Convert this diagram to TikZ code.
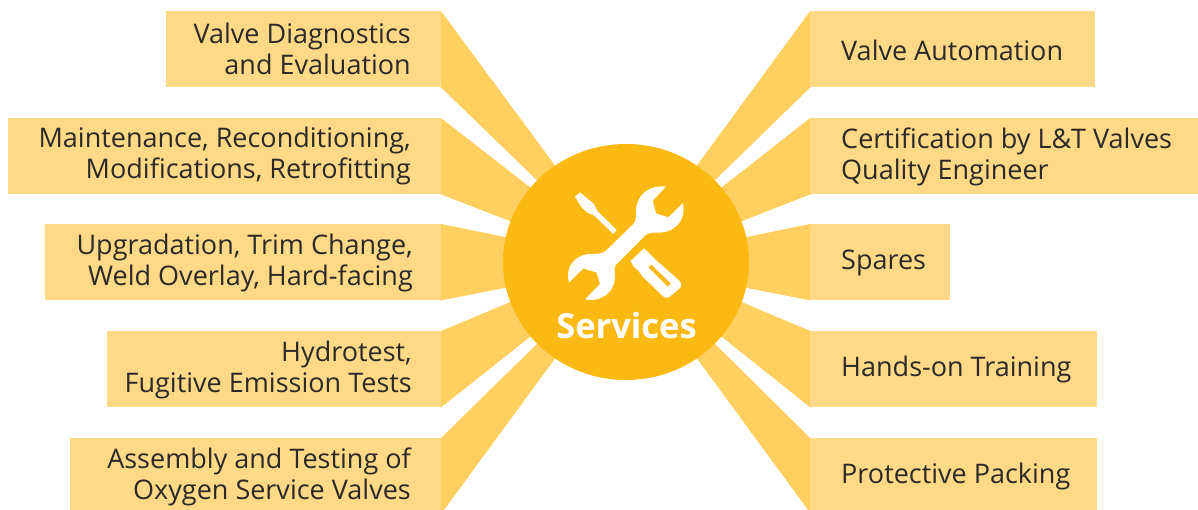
\documentclass[tikz,border=0pt]{standalone}
\usepackage{fontspec}
\setmainfont{Open Sans}
\usetikzlibrary{calc,backgrounds}
\definecolor{boxc}{HTML}{FFD986}
\definecolor{rayc}{HTML}{FFCF60}
\definecolor{hubc}{HTML}{FDB913}
\definecolor{inkc}{HTML}{2B2A29}
\tikzset{
  boxl/.style={fill=boxc,draw=none,inner sep=0pt,minimum height=76pt,anchor=north east},
  boxr/.style={fill=boxc,draw=none,inner sep=0pt,minimum height=76pt,anchor=north west},
  txt/.style={text=inkc,inner sep=0pt,font=\fontsize{27}{31}\selectfont},
  txtl/.style={txt,align=right,anchor=east,xshift=-30pt},
  txtr/.style={txt,align=left,anchor=west,xshift=30.8pt,yshift=-0.7pt},
  rayfill/.style={fill=rayc,draw=none},
  icon/.style={fill=white,draw=none},
}
\begin{document}
\begin{tikzpicture}[x=1pt,y=-1pt]
\useasboundingbox (0,0) rectangle (1198,509);
\clip (0,0) rectangle (1198,509);
% left boxes
\node[boxl,minimum width=275pt] (L1) at (441,11) {};
\node[boxl,minimum width=433pt] (L2) at (441,118) {};
\node[boxl,minimum width=396pt] (L3) at (441,224) {};
\node[boxl,minimum width=334pt] (L4) at (441,331) {};
\node[boxl,minimum width=371pt] (L5) at (441,438) {};
% right boxes
\node[boxr,minimum width=284.8pt] (R1) at (810.2,11) {};
\node[boxr,minimum width=387.8pt] (R2) at (810.2,118) {};
\node[boxr,minimum width=139.8pt] (R3) at (810.2,224) {};
\node[boxr,minimum width=286.8pt] (R4) at (810.2,331) {};
\node[boxr,minimum width=286.8pt] (R5) at (810.2,438) {};
% rays lie beneath the boxes and reach a little under them
\begin{scope}[on background layer]
\fill[rayfill] ([xshift=-1pt]L1.north east) -- (L1.north east) -- (562,175) -- (545,188) -- (L1.south east) -- ([xshift=-1pt]L1.south east) -- cycle;
\fill[rayfill] ([xshift=-1pt]L2.north east) -- (L2.north east) -- (540,195) -- (520,225) -- (L2.south east) -- ([xshift=-1pt]L2.south east) -- cycle;
\fill[rayfill] ([xshift=-1pt]L3.north east) -- (L3.north east) -- (520,240) -- (520,285) -- (L3.south east) -- ([xshift=-1pt]L3.south east) -- cycle;
\fill[rayfill] ([xshift=-1pt]L4.north east) -- (L4.north east) -- (520,298) -- (540,329) -- (L4.south east) -- ([xshift=-1pt]L4.south east) -- cycle;
\fill[rayfill] ([xshift=-1pt]L5.north east) -- (L5.north east) -- (545,336) -- (562,349) -- (441,514) -- (440,514) -- cycle;
\fill[rayfill] ([xshift=1pt]R1.north west) -- (R1.north west) -- (690,175) -- (707,188) -- (R1.south west) -- ([xshift=1pt]R1.south west) -- cycle;
\fill[rayfill] ([xshift=1pt]R2.north west) -- (R2.north west) -- (712,195) -- (732,225) -- (R2.south west) -- ([xshift=1pt]R2.south west) -- cycle;
\fill[rayfill] ([xshift=1pt]R3.north west) -- (R3.north west) -- (732,240) -- (732,285) -- (R3.south west) -- ([xshift=1pt]R3.south west) -- cycle;
\fill[rayfill] ([xshift=1pt]R4.north west) -- (R4.north west) -- (732,298) -- (712,329) -- (R4.south west) -- ([xshift=1pt]R4.south west) -- cycle;
\fill[rayfill] ([xshift=1pt]R5.north west) -- (R5.north west) -- (707,336) -- (690,349) -- (811,514) -- (812,514) -- cycle;
\end{scope}
% texts
\node[txtl] (TL1) at (L1.east) {Valve Diagnostics\\and Evaluation};
\node[txtl] (TL2) at (L2.east) {Maintenance, Reconditioning,\\Modifications, Retrofitting};
\node[txtl,xshift=2pt,yshift=-1pt] (TL3) at (L3.east) {Upgradation, Trim Change,\\Weld Overlay, Hard-facing};
\node[txtl,xshift=1pt,yshift=-1pt] (TL4) at (L4.east) {Hydrotest,\\Fugitive Emission Tests};
\node[txtl,yshift=-1pt] (TL5) at (L5.east) {Assembly and Testing of\\Oxygen Service Valves};
\node[txtr] (TR1) at (R1.west) {Valve Automation};
\node[txtr] (TR2) at (R2.west) {Certification by L\&T Valves\\Quality Engineer};
\node[txtr] (TR3) at (R3.west) {Spares};
\node[txtr] (TR4) at (R4.west) {Hands-on Training};
\node[txtr] (TR5) at (R5.west) {Protective Packing};
% hub
\fill[hubc] (626,262) ellipse [x radius=123, y radius=118];
% icon, in zoom coordinates
\begin{scope}[shift={(500,130)},x=0.3333pt,y=-0.3333pt]
\fill[icon] (498,170) .. controls (450,165) and (412,190) .. (408,240)
  .. controls (407,262) and (410,272) .. (400,282) -- (322,358)
  .. controls (305,376) and (290,370) .. (265,372)
  .. controls (220,378) and (195,415) .. (207,458)
  -- (250,415) -- (290,428) -- (300,462) -- (255,508)
  .. controls (305,518) and (345,485) .. (345,440)
  .. controls (345,420) and (340,412) .. (350,402) -- (430,322)
  .. controls (445,305) and (460,308) .. (480,308)
  .. controls (530,305) and (560,265) .. (548,220)
  -- (505,262) -- (468,250) -- (458,212) -- cycle;
\fill[icon] (225,200) -- (240,187) -- (282,222) -- (292,243) -- (350,300) -- (340,312) -- (282,256) -- (262,248) -- (245,232) -- cycle;
\fill[icon] (392,393) -- (432,355) -- (470,392) -- (538,452) .. controls (546,460) and (545,470) .. (538,476) -- (512,498) .. controls (505,505) and (495,505) .. (488,498) -- (428,440) -- (415,422) -- (400,408) -- cycle;
\fill[hubc] (445,412) -- (454,404) -- (512,460) -- (503,470) -- cycle;
\end{scope}
\node[text=white,inner sep=0pt,font=\fontsize{34.5}{35}\selectfont\bfseries] (hub) at (626.5,326) {Services};
\end{tikzpicture}
\end{document}
